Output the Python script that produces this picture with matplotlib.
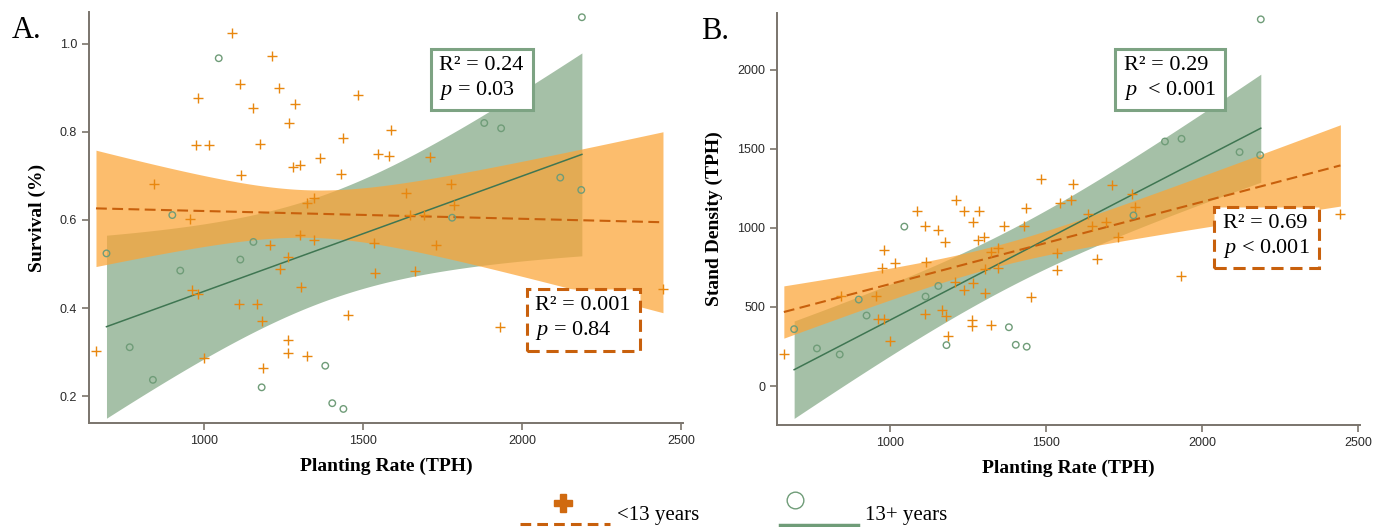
import numpy as np
import matplotlib.pyplot as plt
from matplotlib.lines import Line2D

plt.rcParams['mathtext.fontset'] = 'custom'
plt.rcParams['mathtext.rm'] = 'Liberation Serif'
plt.rcParams['mathtext.it'] = 'Liberation Serif:italic'

# <13 years stands (orange)
young_rate = [660, 844, 955, 962, 975, 980, 982, 1000, 1016, 1087,
              1111, 1112, 1115, 1155, 1167, 1177, 1181, 1185, 1207, 1213,
              1237, 1238, 1263, 1263, 1265, 1266, 1281, 1286, 1302, 1303,
              1305, 1323, 1324, 1345, 1346, 1364, 1430, 1436, 1452, 1485,
              1534, 1536, 1546, 1580, 1587, 1636, 1648, 1662, 1691, 1710,
              1729, 1776, 1785, 1932, 2443]
young_surv = [0.303, 0.681, 0.601, 0.440, 0.770, 0.431, 0.876, 0.286, 0.770, 1.024,
              0.409, 0.909, 0.702, 0.853, 0.409, 0.773, 0.371, 0.265, 0.544, 0.973,
              0.899, 0.489, 0.298, 0.327, 0.515, 0.820, 0.719, 0.864, 0.724, 0.565,
              0.448, 0.290, 0.639, 0.554, 0.649, 0.740, 0.705, 0.785, 0.384, 0.884,
              0.548, 0.479, 0.750, 0.745, 0.805, 0.662, 0.612, 0.484, 0.611, 0.743,
              0.543, 0.681, 0.633, 0.358, 0.444]
young_dens = [200, 570, 572, 423, 749, 423, 858, 288, 779, 1108,
              457, 1009, 782, 984, 480, 909, 440, 316, 656, 1176,
              1108, 606, 379, 416, 650, 1039, 924, 1108, 943, 743,
              587, 387, 845, 749, 873, 1009, 1009, 1126, 560, 1310,
              842, 736, 1159, 1178, 1277, 1090, 1009, 806, 1037, 1273,
              943, 1211, 1132, 698, 1088]

# 13+ years stands (green)
old_rate = [693, 766, 839, 900, 925, 1046, 1114, 1155, 1181, 1381,
            1403, 1438, 1780, 1881, 1934, 2120, 2186, 2188]
old_surv = [0.524, 0.311, 0.237, 0.611, 0.485, 0.967, 0.510, 0.550, 0.220, 0.269,
            0.184, 0.171, 0.605, 0.820, 0.808, 0.696, 0.668, 1.060]
old_dens = [360, 238, 200, 547, 446, 1008, 566, 633, 259, 372,
            261, 249, 1079, 1546, 1563, 1479, 1460, 2318]

stats_a = [r"R² = 0.24" + "\n" + r"$p$ = 0.03", r"R² = 0.001" + "\n" + r"$p$ = 0.84"]
stats_b = [r"R² = 0.29" + "\n" + r"$p$  < 0.001", r"R² = 0.69" + "\n" + r"$p$ < 0.001"]

ORANGE_FILL = '#fca435'
ORANGE_LINE = '#c8600c'
ORANGE_MARK = '#e8870f'
GREEN_FILL = '#a5c0a7'
GREEN_LINE = '#3f7652'
GREEN_MARK = '#6f9c78'
GREEN_BOX = '#7da383'
SPINE = '#7a746c'


def fit_band(x, y, t_crit):
    x = np.asarray(x, float)
    y = np.asarray(y, float)
    b, a = np.polyfit(x, y, 1)
    n = len(x)
    resid = y - (a + b * x)
    s = np.sqrt(np.sum(resid ** 2) / (n - 2))
    xs = np.linspace(x.min(), x.max(), 200)
    se = s * np.sqrt(1 / n + (xs - x.mean()) ** 2 / np.sum((x - x.mean()) ** 2))
    yhat = a + b * xs
    return xs, yhat, yhat - t_crit * se, yhat + t_crit * se


def draw_panel(ax, yo, yg, ylim, yticks, ylabel, letter, stats, box_pos):
    xg, fg, lg, ug = fit_band(old_rate, yg, 2.120)
    xo, fo, lo, uo = fit_band(young_rate, yo, 2.006)
    ax.fill_between(xg, lg, ug, color=GREEN_FILL, lw=0, zorder=1)
    ax.fill_between(xo, lo, uo, color=ORANGE_FILL, alpha=0.72, lw=0, zorder=2)
    ax.plot(xg, fg, color=GREEN_LINE, lw=1.1, zorder=3)
    ax.plot(xo, fo, color=ORANGE_LINE, lw=1.5, dashes=(5.2, 2.6), zorder=3)
    ax.scatter(young_rate, yo, marker='+', s=42, color=ORANGE_MARK, lw=1.0, zorder=4)
    ax.scatter(old_rate, yg, marker='o', s=22, facecolors='none',
               edgecolors=GREEN_MARK, lw=1.0, zorder=4)

    ax.set_xlim(638, 2506)
    ax.set_ylim(*ylim)
    ax.set_xticks([1000, 1500, 2000, 2500])
    ax.set_yticks(yticks)
    for s in ['top', 'right']:
        ax.spines[s].set_visible(False)
    for s in ['left', 'bottom']:
        ax.spines[s].set_color(SPINE)
        ax.spines[s].set_linewidth(1.4)
    ax.tick_params(colors=SPINE, length=5, width=1.2, labelsize=9,
                   labelcolor='#2a2a2a')
    for lab in ax.get_xticklabels() + ax.get_yticklabels():
        lab.set_family('Liberation Sans')
    ax.set_xlabel('Planting Rate (TPH)', family='Liberation Serif',
                  weight='bold', fontsize=14, labelpad=8)
    ax.set_ylabel(ylabel, family='Liberation Serif', weight='bold', fontsize=14, labelpad=10)
    ax.text(-0.13, 0.99, letter, transform=ax.transAxes, family='Liberation Serif',
            fontsize=22, ha='left', va='top')

    (gx, gy), (ox, oy) = box_pos
    ax.text(gx, gy, stats[0], transform=ax.transAxes, ha='center', va='center',
            multialignment='left', family='Liberation Serif', fontsize=16,
            linespacing=1.25, zorder=6,
            bbox=dict(boxstyle='square,pad=0.4', fc='white', ec=GREEN_BOX, lw=2.2))
    ax.text(ox, oy, stats[1], transform=ax.transAxes, ha='center', va='center',
            multialignment='left', family='Liberation Serif', fontsize=16,
            linespacing=1.25, zorder=6,
            bbox=dict(boxstyle='square,pad=0.4', fc='white', ec=ORANGE_LINE, lw=2.2,
                      ls=(0, (4, 2.2))))


fig = plt.figure(figsize=(13.84, 5.27), dpi=100)
ax1 = fig.add_axes([0.0643, 0.1973, 0.4292, 0.780])
ax2 = fig.add_axes([0.5614, 0.1935, 0.4213, 0.7818])

draw_panel(ax1, young_surv, old_surv, (0.139, 1.072), [0.2, 0.4, 0.6, 0.8, 1.0],
           'Survival (%)', 'A.', stats_a, [(0.661, 0.838), (0.832, 0.254)])
draw_panel(ax2, young_dens, old_dens, (-246, 2358), [0, 500, 1000, 1500, 2000],
           'Stand Density (TPH)', 'B.', stats_b, [(0.674, 0.841), (0.840, 0.4575)])

# legend under the panels
fig.add_artist(Line2D([0.4068], [0.0455], marker='P', ms=13, color='#d06a10',
                      mec='#d06a10', transform=fig.transFigure))
fig.add_artist(Line2D([0.376, 0.441], [0.006, 0.006], color=ORANGE_LINE, lw=2.2,
                      dashes=(3.5, 2), transform=fig.transFigure))
fig.text(0.4458, 0.022, '<13 years', family='Liberation Serif', fontsize=15,
         ha='left', va='center')
fig.add_artist(Line2D([0.5744], [0.0512], marker='o', ms=12, mfc='none',
                      mec=GREEN_MARK, mew=1.0, transform=fig.transFigure))
fig.add_artist(Line2D([0.5636, 0.62], [0.004, 0.004], color=GREEN_MARK, lw=2.5,
                      transform=fig.transFigure))
fig.text(0.625, 0.022, '13+ years', family='Liberation Serif', fontsize=15,
         ha='left', va='center')

fig.savefig('out.png', dpi=100)
